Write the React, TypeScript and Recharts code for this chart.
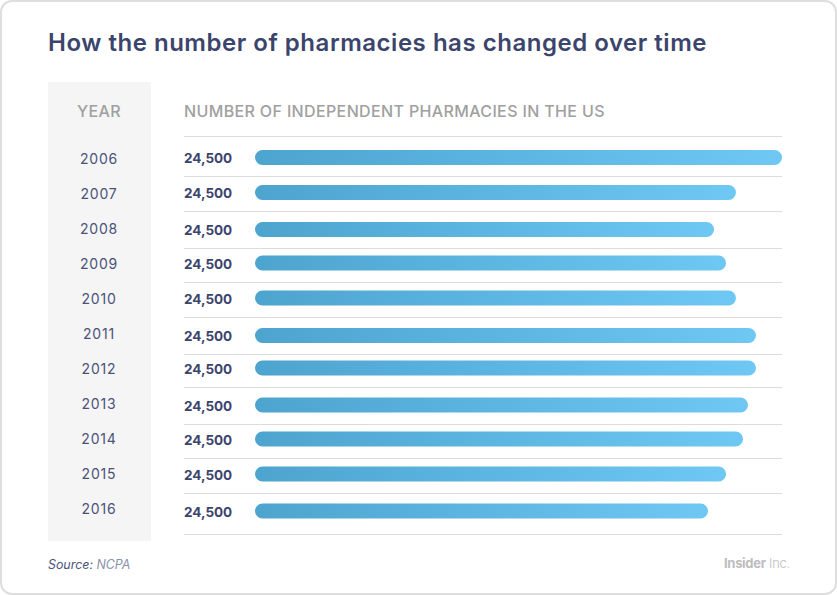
import { BarChart, Bar, XAxis, YAxis, CartesianGrid, LabelList, Rectangle } from "recharts";

const YEARS = ["2006", "2007", "2008", "2009", "2010", "2011", "2012", "2013", "2014", "2015", "2016"];
// 2006 being the full width of the axis
const PHARMACIES = [24500, 22360, 21340, 21900, 22360, 23290, 23290, 22920, 22690, 21900, 21060];
// the picture prints the same figure on every row
const VALUE_LABELS = ["24,500", "24,500", "24,500", "24,500", "24,500", "24,500", "24,500", "24,500", "24,500", "24,500", "24,500"];

// the rows in the reference are hand placed, not evenly spaced
const ROW_NUDGE = [-0.5, -0.5, 1.5, 0, 0, 2.5, 0, 2, 1, 1, 3];
const RULES = [136.5, 176.5, 211.5, 248.5, 282.5, 317.5, 354.5, 387.5, 424.5, 458.5, 493.5, 534.5];

const FONT = "Inter, 'Noto Sans', sans-serif";
const NAVY = "#3b446c";

const data = YEARS.map((year, i) => ({ year, value: PHARMACIES[i] }));

const text = (style: React.CSSProperties): React.CSSProperties => ({
  position: "absolute",
  whiteSpace: "nowrap",
  fontFamily: FONT,
  ...style,
});

function RoundedBar(props: any) {
  const { x, y, width, height, index } = props;
  return (
    <Rectangle
      x={x}
      y={y + ROW_NUDGE[index]}
      width={width}
      height={height}
      radius={height / 2}
      fill="url(#barFill)"
    />
  );
}

function ValueLabel(props: any) {
  const { y, height, index } = props;
  return (
    <text
      x={184}
      y={y + height / 2 + ROW_NUDGE[index] + 0.5}
      dominantBaseline="central"
      fontFamily={FONT}
      fontSize={13.5}
      fontWeight={700}
      letterSpacing={0}
      fill={NAVY}
    >
      {VALUE_LABELS[index]}
    </text>
  );
}

function YearTick(props: any) {
  const { y, payload } = props;
  return (
    <text
      x={99}
      y={y}
      textAnchor="middle"
      dominantBaseline="central"
      fontFamily={FONT}
      fontSize={14}
      letterSpacing={0.8}
      fill="#4a5279"
    >
      {payload.value}
    </text>
  );
}

export default function App() {
  return (
    <div style={{ position: "absolute", left: 0, top: 0, width: 837, height: 595, background: "#fff", overflow: "hidden" }}>
      <div
        style={{
          position: "absolute",
          left: 0,
          top: 0,
          width: 837,
          height: 595,
          boxSizing: "border-box",
          border: "2px solid #dedede",
          borderRadius: 12,
        }}
      />
      <div style={{ position: "absolute", left: 48, top: 82, width: 103, height: 459, background: "#f5f5f5" }} />

      <div style={text({ left: 48, top: 28, fontSize: 24, lineHeight: "30px", fontWeight: 600, color: NAVY, letterSpacing: 0.52 })}>
        How the number of pharmacies has changed over time
      </div>
      <div style={text({ left: 77, top: 101, fontSize: 16, lineHeight: "20px", fontWeight: 500, color: "#a0a0a0", letterSpacing: 0.4 })}>YEAR</div>
      <div style={text({ left: 184, top: 101, fontSize: 16, lineHeight: "20px", fontWeight: 500, color: "#a0a0a0", letterSpacing: 0.36 })}>
        NUMBER OF INDEPENDENT PHARMACIES IN THE US
      </div>

      <div style={{ position: "absolute", left: 0, top: 0 }}>
        <BarChart
          width={837}
          height={595}
          data={data}
          layout="vertical"
          barCategoryGap={0}
          margin={{ top: 140.5, right: 55, bottom: 69.5, left: 0 }}
        >
          <defs>
            <linearGradient id="barFill" x1="0" y1="0" x2="1" y2="0">
              <stop offset="0" stopColor="#4ca4cf" />
              <stop offset="1" stopColor="#6ec8f3" />
            </linearGradient>
          </defs>
          <CartesianGrid
            vertical={false}
            horizontalPoints={RULES}
            horizontal={(p: any) => <line key={p.key} x1={184} x2={782} y1={p.y1} y2={p.y2} stroke="#dcdcdc" strokeWidth={1} />}
          />
          <XAxis type="number" domain={[0, 24500]} hide />
          <YAxis type="category" dataKey="year" width={255} axisLine={false} tickLine={false} interval={0} tick={<YearTick />} />
          <Bar dataKey="value" barSize={15} isAnimationActive={false} shape={<RoundedBar />}>
            <LabelList dataKey="value" content={<ValueLabel />} />
          </Bar>
        </BarChart>
      </div>

      <div style={text({ left: 48, top: 557, fontSize: 12.4, lineHeight: "16px", fontStyle: "italic", color: "#4a5279" })}>
        Source: <span style={{ color: "#8b90aa" }}>NCPA</span>
      </div>
      <div style={text({ left: 724, top: 554, fontSize: 13, lineHeight: "18px", color: "#bdbdbd", letterSpacing: -0.3 })}>
        <span style={{ fontWeight: 700 }}>Insider</span> <span style={{ fontWeight: 300 }}>Inc.</span>
      </div>
    </div>
  );
}
